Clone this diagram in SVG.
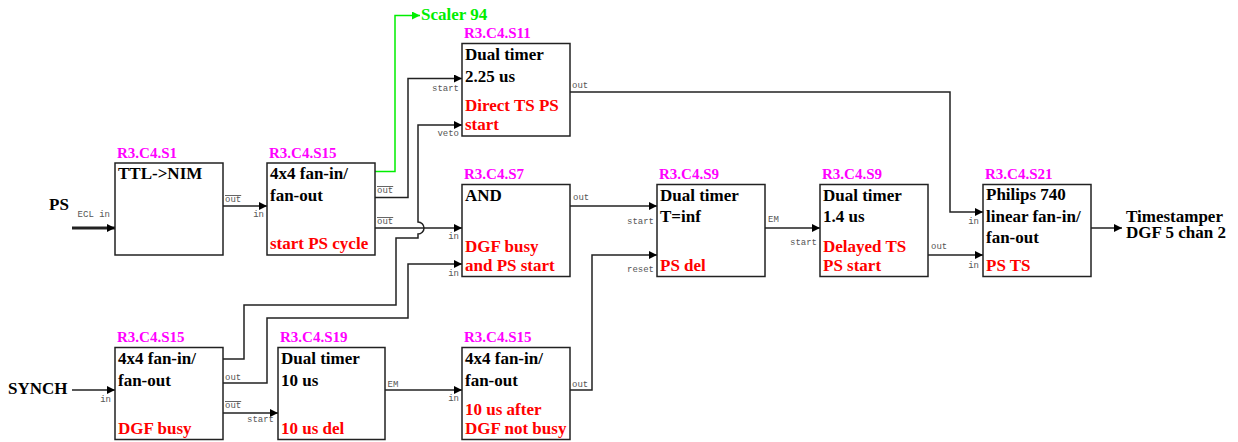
<svg xmlns="http://www.w3.org/2000/svg" width="1238" height="442" viewBox="0 0 1238 442">
<style>
.box{fill:#fff;stroke:#222;stroke-width:1.5}
.id{font-family:"Liberation Serif",serif;font-weight:bold;font-size:15px;fill:#ff00ff}
.t{font-family:"Liberation Serif",serif;font-weight:bold;font-size:17px;fill:#000}
.r{font-family:"Liberation Serif",serif;font-weight:bold;font-size:17px;fill:#ff0000}
.big{font-family:"Liberation Serif",serif;font-weight:bold;font-size:17px;fill:#000}
.p{font-family:"Liberation Mono",monospace;font-size:9px;fill:#555}
.pi{text-anchor:end}
.ov{text-decoration:overline}
.c{fill:none;stroke:#222;stroke-width:1.5;marker-end:url(#ah)}
.g{fill:none;stroke:#00ee00;stroke-width:1.5;marker-end:url(#ahg)}
</style>
<defs>
<marker id="ah" viewBox="0 0 8 8" refX="8" refY="4" markerWidth="8" markerHeight="8" markerUnits="userSpaceOnUse" orient="auto"><path d="M0,0 L8,4 L0,8 z" fill="#000"/></marker>
<marker id="ahg" viewBox="0 0 8 8" refX="8" refY="4" markerWidth="8" markerHeight="8" markerUnits="userSpaceOnUse" orient="auto"><path d="M0,0 L8,4 L0,8 z" fill="#00ee00"/></marker>
</defs>

<g id="connectors">
<path class="c" style="stroke-width:3" d="M72,228 H115"/>
<path class="c" d="M223,206 H267"/>
<path class="g" d="M375,171.5 H395 V15.5 H420"/>
<path class="c" d="M375,197.5 H408 V78.5 H462"/>
<path class="c" d="M375,228 H462"/>
<path class="c" d="M223,359 H244 V305 H396 V238 H418 V234 A6,6 0 0 0 418,222 V125 H462"/>
<path class="c" d="M223,383 H267 V318 H408 V264 H462"/>
<path class="c" d="M570,206 H657"/>
<path class="c" d="M570,390 H592 V255 H657"/>
<path class="c" d="M765,228 H820"/>
<path class="c" d="M928,255 H983"/>
<path class="c" d="M570,92 H950 V212 H983"/>
<path class="c" d="M1091,228 H1122"/>
<path class="c" d="M72,390 H115"/>
<path class="c" d="M223,413 H278"/>
<path class="c" d="M385,390 H462"/>
</g>

<g id="ps">
<text class="big" x="49" y="210">PS</text>
<text class="p pi" x="110" y="217">ECL in</text>
</g>
<g id="synch">
<text class="big" x="8" y="394">SYNCH</text>
</g>
<g id="scaler">
<text class="big" x="421" y="19.5" style="fill:#00ee00">Scaler 94</text>
</g>
<g id="timestamper">
<text class="big" x="1126" y="221.5">Timestamper</text>
<text class="big" x="1126" y="237.5">DGF 5 chan 2</text>
</g>

<g id="s1">
<rect class="box" x="115" y="163" width="108" height="92"/>
<text class="id" x="117" y="157.5">R3.C4.S1</text>
<text class="t" x="118" y="179">TTL-&gt;NIM</text>
<text class="p ov" x="225" y="202">out</text>
</g>

<g id="s15a">
<rect class="box" x="267" y="163" width="108" height="92"/>
<text class="id" x="269" y="157.5">R3.C4.S15</text>
<text class="t" x="270" y="179">4x4 fan-in/</text>
<text class="t" x="270" y="201">fan-out</text>
<text class="r" x="270" y="249">start PS cycle</text>
<text class="p pi" x="264" y="216.5">in</text>
<text class="p ov" x="377" y="193">out</text>
<text class="p ov" x="377" y="224">out</text>
</g>

<g id="s11">
<rect class="box" x="462" y="43.5" width="108" height="92.5"/>
<text class="id" x="464" y="38">R3.C4.S11</text>
<text class="t" x="465" y="59.5">Dual timer</text>
<text class="t" x="465" y="81.5">2.25 us</text>
<text class="r" x="465" y="111">Direct TS PS</text>
<text class="r" x="465" y="130">start</text>
<text class="p pi" x="459" y="91">start</text>
<text class="p pi" x="459" y="136">veto</text>
<text class="p" x="572" y="87.5">out</text>
</g>

<g id="s7">
<rect class="box" x="462" y="184.5" width="108" height="92"/>
<text class="id" x="464" y="179">R3.C4.S7</text>
<text class="t" x="465" y="200.5">AND</text>
<text class="r" x="465" y="252">DGF busy</text>
<text class="r" x="465" y="271">and PS start</text>
<text class="p pi" x="459" y="238.5">in</text>
<text class="p pi" x="459" y="276">in</text>
<text class="p" x="573" y="199.5">out</text>
</g>

<g id="s9a">
<rect class="box" x="657" y="184.5" width="108" height="92"/>
<text class="id" x="659" y="179">R3.C4.S9</text>
<text class="t" x="660" y="200.5">Dual timer</text>
<text class="t" x="660" y="222">T=inf</text>
<text class="r" x="660" y="271">PS del</text>
<text class="p pi" x="654" y="223.5">start</text>
<text class="p pi" x="654" y="272">reset</text>
<text class="p" x="768" y="222">EM</text>
</g>

<g id="s9b">
<rect class="box" x="820" y="184.5" width="108" height="92"/>
<text class="id" x="822" y="179">R3.C4.S9</text>
<text class="t" x="823" y="200.5">Dual timer</text>
<text class="t" x="823" y="222">1.4 us</text>
<text class="r" x="823" y="252">Delayed TS</text>
<text class="r" x="823" y="271">PS start</text>
<text class="p pi" x="817" y="244.5">start</text>
<text class="p" x="931" y="248.5">out</text>
</g>

<g id="s21">
<rect class="box" x="983" y="184.5" width="108" height="92"/>
<text class="id" x="985" y="179">R3.C4.S21</text>
<text class="t" x="986" y="199.5">Philips 740</text>
<text class="t" x="986" y="221.5">linear fan-in/</text>
<text class="t" x="986" y="242.5">fan-out</text>
<text class="r" x="986" y="271">PS TS</text>
<text class="p pi" x="979" y="223.5">in</text>
<text class="p pi" x="979" y="267.5">in</text>
</g>

<g id="s15b">
<rect class="box" x="115" y="347.5" width="108" height="92"/>
<text class="id" x="117" y="342">R3.C4.S15</text>
<text class="t" x="118" y="363.5">4x4 fan-in/</text>
<text class="t" x="118" y="385.5">fan-out</text>
<text class="r" x="118" y="434">DGF busy</text>
<text class="p pi" x="111" y="402">in</text>
<text class="p" x="225" y="379.5">out</text>
<text class="p ov" x="225" y="408">out</text>
</g>

<g id="s19">
<rect class="box" x="278" y="347.5" width="107" height="92"/>
<text class="id" x="280" y="342">R3.C4.S19</text>
<text class="t" x="281" y="363.5">Dual timer</text>
<text class="t" x="281" y="385.5">10 us</text>
<text class="r" x="281" y="434">10 us del</text>
<text class="p pi" x="274" y="422">start</text>
<text class="p" x="387.5" y="387">EM</text>
</g>

<g id="s15c">
<rect class="box" x="462" y="347.5" width="108" height="92"/>
<text class="id" x="464" y="342">R3.C4.S15</text>
<text class="t" x="465" y="363.5">4x4 fan-in/</text>
<text class="t" x="465" y="385.5">fan-out</text>
<text class="r" x="465" y="414.5">10 us after</text>
<text class="r" x="465" y="433.5">DGF not busy</text>
<text class="p pi" x="459" y="401">in</text>
<text class="p" x="572" y="387">out</text>
</g>
</svg>
